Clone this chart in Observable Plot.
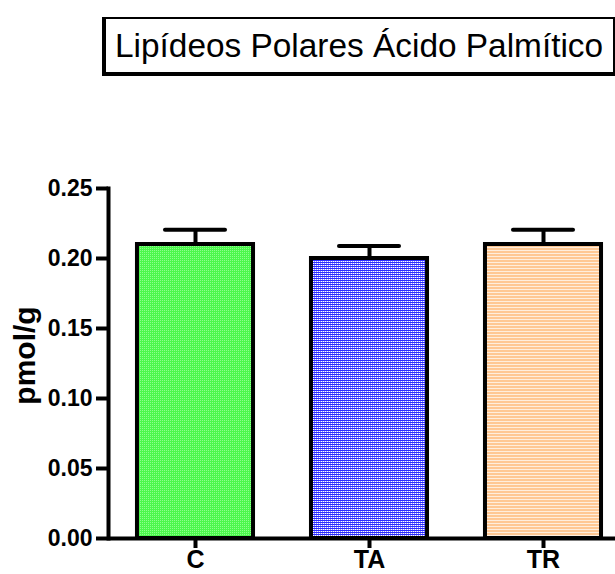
<!DOCTYPE html>
<html>
<head>
<meta charset="utf-8">
<script src="https://cdn.jsdelivr.net/npm/d3@7"></script>
<script src="https://cdn.jsdelivr.net/npm/@observablehq/plot@0.6"></script>
<style>
  html, body { margin: 0; padding: 0; background: #fff; }
  #wrap { position: relative; width: 615px; height: 574px; overflow: hidden; font-family: "Liberation Sans", Arial, sans-serif; }
  #head { position: relative; width: 615px; height: 80px; }
  #titlebox { position: absolute; left: 102px; top: 17px; width: 513px; height: 59px; box-sizing: border-box;
    border-style: solid; border-color: #000; border-width: 2px 2px 4px 4px; }
  #title { position: absolute; left: 115px; top: 27px; font-size: 33.4px; line-height: normal; white-space: nowrap; color: #000; }
  svg { display: block; }
</style>
</head>
<body>
<div id="wrap">
  <div id="head"><div id="titlebox"></div><div id="title">Lipídeos Polares Ácido Palmítico</div></div>
  <div id="chart"></div>
</div>
<script>
const categories = ["C", "TA", "TR"];
const means = [0.21, 0.20, 0.21];
const sems = [0.0105, 0.009, 0.0105];
const fills = ["url(#patGreen)", "url(#patBlue)", "url(#patOrange)"];
const yTicks = [0, 0.05, 0.10, 0.15, 0.20, 0.25];
const yLabel = "pmol/g";

const data = categories.map((c, i) => ({cat: c, mean: means[i], top: means[i] + sems[i], fill: fills[i]}));

const chart = Plot.plot({
  width: 615,
  height: 494,
  marginLeft: 108,
  marginRight: 0,
  marginTop: 108,
  marginBottom: 36,
  style: {fontFamily: "'Liberation Sans', Arial, sans-serif", fontWeight: "bold", fontSize: "23px", color: "#000", background: "#fff"},
  x: {domain: categories, range: [108, 630], paddingInner: 0.31, paddingOuter: 0.155, round: false, label: null},
  y: {domain: [0, 0.25], label: null},
  marks: [
    Plot.barY(data, {x: "cat", y: "mean", fill: "fill", stroke: "#000", strokeWidth: 4, insetLeft: 2, insetRight: 2}),
    Plot.ruleX(data, {x: "cat", y1: "mean", y2: "top", stroke: "#000", strokeWidth: 4}),
    Plot.tickY(data, {x: "cat", y: "top", stroke: "#000", strokeWidth: 4, insetLeft: 30, insetRight: 30, strokeLinecap: "round"}),
    Plot.axisY({ticks: yTicks, tickFormat: d3.format(".2f"), tickSize: 12, tickPadding: 4, strokeWidth: 4, label: null, fontSize: 23}),
    Plot.axisX({tickSize: 10, tickPadding: 2, strokeWidth: 4, label: null, fontSize: 25}),
    Plot.frame({anchor: "left", stroke: "#000", strokeWidth: 4}),
    Plot.ruleY([0], {stroke: "#000", strokeWidth: 4}),
    Plot.text([yLabel], {frameAnchor: "left", dx: -83, dy: -8, rotate: -90, textAnchor: "middle", fontSize: 30, fontWeight: "bold", text: d => d})
  ]
});

// add fill patterns
const ns = "http://www.w3.org/2000/svg";
const defs = document.createElementNS(ns, "defs");
defs.innerHTML = `
  <pattern id="patGreen" patternUnits="userSpaceOnUse" width="2" height="2" shape-rendering="crispEdges">
    <rect width="2" height="2" fill="#4cf74c"/>
    <rect x="0" y="0" width="1" height="1" fill="#8cff8c"/>
  </pattern>
  <pattern id="patBlue" patternUnits="userSpaceOnUse" width="2" height="2" shape-rendering="crispEdges">
    <rect width="2" height="2" fill="#2a2aff"/>
    <rect x="1" y="1" width="1" height="1" fill="#ffffff"/>
    <rect x="0" y="1" width="1" height="1" fill="#8a8aff"/>
  </pattern>
  <pattern id="patOrange" patternUnits="userSpaceOnUse" width="4" height="3" shape-rendering="crispEdges">
    <rect width="4" height="3" fill="#ffc894"/>
    <rect y="2" width="4" height="1" fill="#ffeedd"/>
  </pattern>`;
chart.insertBefore(defs, chart.firstChild);
document.getElementById("chart").appendChild(chart);
</script>
</body>
</html>
